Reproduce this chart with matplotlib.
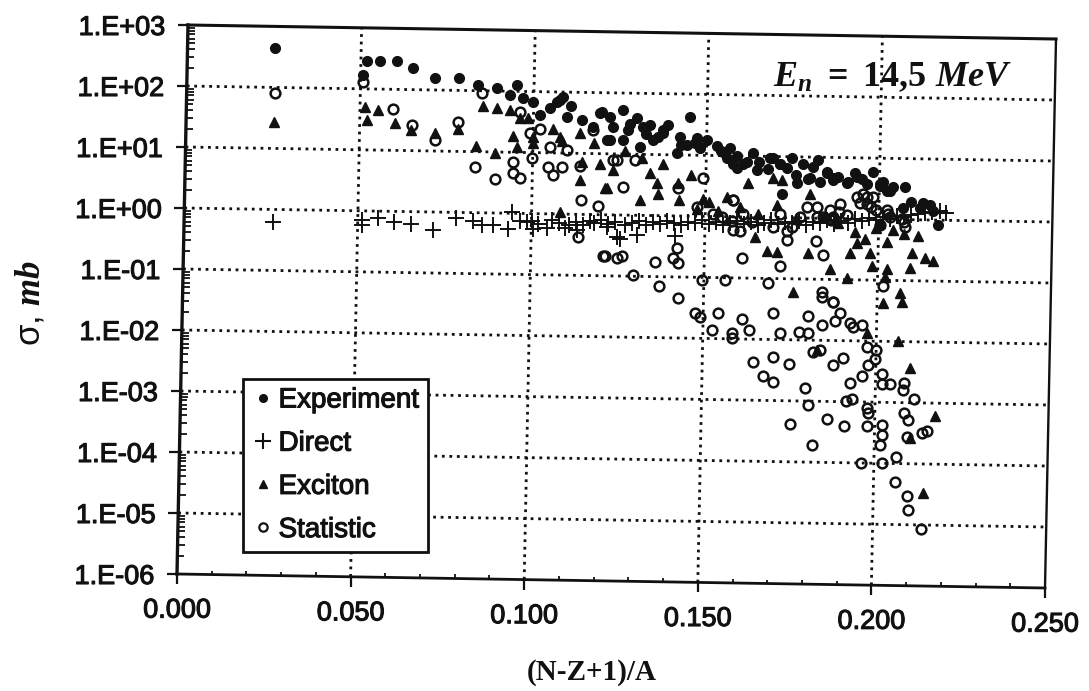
import matplotlib
matplotlib.use('Agg')
import matplotlib.pyplot as plt
from matplotlib.lines import Line2D
from matplotlib.transforms import Affine2D
from matplotlib.ticker import FixedLocator, FixedFormatter
import matplotlib.patheffects as pe

plt.rcParams['font.family'] = ['Liberation Sans', 'DejaVu Sans']
plt.rcParams['mathtext.fontset'] = 'custom'
plt.rcParams['mathtext.rm'] = 'Liberation Serif:bold'
plt.rcParams['mathtext.it'] = 'Liberation Serif:italic:bold'

exp_x = [.0267, .053, .0568, .0616, .0662, .0725, .0794, .085, .0903, .096, .052, .094, .0978, .1006,
         .1026, .1055, .1075, .1092, .1104, .1147, .1204, .1178, .1227, .1198, .1264, .1236, .1304, .1342,
         .1218, .1264, .1313, .135, .1393, .1456, .1428, .1419, .1476, .1505, .1485, .1534, .1571, .1591,
         .1562, .1637, .162, .1648, .1686, .1749, .1714, .1763, .178, .1823, .18, .1849, .1829, .193,
         .1906, .1981, .201, .2038, .2073, .2021, .172, .2145, .2153, .2116, .2167, .2067, .1655, .168,
         .1735, .176, .1795, .1865, .188, .195, .1965, .2, .209, .2125, .159, .1545, .147, .143, .138,
         .133, .128, .1085, .1115, .1227, .1284, .1322, .1379, .1365, .1448, .1485, .1551, .158, .1608,
         .1695, .1714, .1809, .1849, .1867, .191, .1935, .2001, .203]
exp_y = [436, 270, 270, 270, 205, 140, 140, 107, 97, 107, 158, 74, 66, 56,
         35, 46, 56, 69, 33, 29, 39, 22, 13.5, 37, 42, 22, 31, 24,
         13.5, 13.5, 10.5, 13.5, 24, 32, 15, 8.3, 14.5, 13.5, 10, 11, 10, 4.7,
         7, 8.5, 5.9, 4.4, 6.9, 7, 5.6, 2.7, 5.6, 6.3, 3.3, 3.9, 2.8, 3.9,
         2.7, 4.1, 2.8, 2.3, 2.3, 2, 1.8, 1.17, .95, 1.07, .55, 1.07, 6, 4.6,
         4.8, 3.6, 3.1, 3, 3.4, 3.1, 2.6, 2.4, 1.3, 1.25, 7.5, 9, 12, 11.5, 18,
         17, 20, 62, 50, 32.7, 25, 22, 20, 15.5, 11.3, 10.5, 8.7, 5.6, 5.6,
         6.8, 5.6, 4.9, 4.1, 3.2, 2.8, 3.4, 2.6, 2]

dir_x = [.0261, .0516, .0516, .0562, .0608, .0657, .072, .0786, .0834, .086, .0892, .0935, .0946, .097,
         .1003, .1006, .1046, .1098, .1132, .117, .1218, .1247, .1256, .1304, .1413, .099, .102, .106,
         .108, .111, .113, .115, .118, .12, .122, .124, .127, .129, .131, .133, .135, .137, .139, .141,
         .143, .145, .147, .149, .151, .153, .155, .157, .159, .161, .163, .165, .167, .169, .171, .173,
         .175, .177, .179, .181, .183, .185, .187, .189, .191, .193, .195, .197, .199, .201, .203, .205,
         .207, .209, .211, .213, .215, .2173, .219]
dir_y = [.62, .55, .68, .71, .62, .57, .46, .71, .65, .55, .55, .48, .9, .65,
         .65, .48, .5, .5, .46, .65, .52, .35, .33, .38, .37, .62, .58, .66,
         .6, .55, .62, .56, .6, .68, .58, .62, .55, .6, .65, .56, .62, .58, .64, .6,
         .56, .62, .6, .66, .58, .62, .56, .6, .64, .58, .62, .55, .6, .66, .58, .62,
         .6, .65, .56, .62, .6, .66, .58, .64, .6, .7, .65, .72, .68, .74, .7, .78,
         .76, .8, .85, .86, .9, .95, .88]

exc_x = [.0264, .0525, .053, .0562, .0611, .0657, .0725, .0791, .0843, .0897, .0863, .0903, .094, .0949,
         .096, .0969, .0992, .1006, .1006, .1064, .1084, .1147, .1141, .1198, .1218, .1236, .1141, .1084,
         .1213, .1342, .1362, .1365, .1313, .1422, .1425, .1494, .1476, .1562, .1623, .1694, .172, .18,
         .1706, .1537, .1677, .1706, .1795, .1858, .1906, .1752, .1915, .1972, .1978, .1958, .2021, .2093,
         .2087, .213, .2153, .2021, .2016, .201, .2058, .2064, .2038, .211, .1929, .1935, .1643, .2053,
         .2087, .2159, .2124, .1964, .2087, .182, .109, .118, .127, .132, .138, .146, .151, .16, .165, .176,
         .184, .188, .199, .207, .2]
exc_y = [27, 47, 29, 42, 26, 20, 18, 21, 11, 8.5, 50, 46, 42, 16,
         10.5, 31, 31, 15, 12, 21, 15, 5.9, 3, 5.6, 2.2, 4.4, 18, .9,
         2.2, 3.9, 2.7, 1.8, 1.4, 2.7, 1.4, 1.5, 1, 1.6, 2.7, 3.3, 3, 1.8,
         1.17, .95, .21, .2, .19, .107, .074, .044, .19, .19, .12, .33, .29, .19,
         .11, .16, .145, .107, .078, .029, .042, .03, .46, .37, .42, .28, .35, .0071,
         .0025, .00042, .000023, .0093, .00018, .0049, 13, 12, 9, 7, 5.5, 3.6, 1.3, 1.1, .85, .7,
         .75, .6, .5, .4, .6]

sta_x = [.0267, .0519, .0605, .066, .0725, .0791, .086, .084, .0897, .0949, .0949, .0969, .1003, .0998,
         .1026, .0969, .1055, .1104, .1049, .1089, .1064, .1141, .1144, .1193, .1207, .1247, .1135, .1236,
         .1178, .1213, .1261, .1356, .1419, .1408, .1422, .1293, .1368, .1491, .1557, .1422, .168, .1606,
         .1714, .1838, .1818, .1835, .1866, .1494, .1422, .1247, .1299, .1264, .158, .1735, .158, .201,
         .1964, .1944, .1975, .1885, .182, .2025, .207, .2, .186, .1471, .1485, .1537, .1519, .1577, .1577,
         .1606, .1626, .1695, .1714, .1769, .1795, .1795, .1835, .1872, .1887, .1866, .1835, .1915, .1924,
         .195, .1964, .199, .1987, .1967, .1829, .1809, .1895, .1866, .195, .1915, .1637, .1694, .174, .1666,
         .1694, .1786, .1795, .1743, .1849, .1898, .1904, .1921, .1964, .1967, .1964, .2007, .2007, .2001,
         .1806, .1947, .2007, .2047, .2044, .2079, .2081, .212, .2007, .2007, .203, .207, .2067, .2099, .207,
         .2081, .2079, .2122, .2136, .1886, .1906, .1935, .1953, .1963, .1982, .1991, .202, .203, .2063,
         .2073, .1867, .1858, .182, .1791, .1772, .1714, .1695, .1734, .1748, .158, .1547, .1576, .1609,
         .1633, .16, .1523, .1476, .1839]
sta_y = [79, 120, 44, 24, 13.5, 27, 79, 5, 3.1, 5.9, 3.9, 3.3, 7, 18,
         21, 39, 10.5, 9.3, 4.9, 4.9, 3.7, 5.2, 1.4, 1.12, .17, .16, .35, 6.3,
         20, .17, .17, .135, .23, .16, .13, .083, .056, .069, .071, .035, .063, .16,
         .117, .18, .3, .044, .031, 3.3, 2.2, 6.3, 6.3, 2.3, 1.4, .31, .46, .056,
         1.6, 1.25, 1.1, .9, .75, .85, .62, .55, .68, .0204, .017, .02, .0107, .0095, .0078,
         .016, .0105, .02, .0093, .01, .018, .0093, .0126, .015, .02, .031, .037, .014, .0118,
         .0126, .0055, .0049, .0035, .0028, .0049, .0047, .0037, .0028, .0019, .00145, .0032, .0039, .0029, .0019,
         .0015, .00117, .00062, .00031, .00037, .00029, .00074, .00079, .00056, .00046, .00028, .0003, .0002, .00014,
         .00014, .00007, .00007, .00009, .000035, .00002, .000012, .0000059, .002, .0014, .0014, .00145, .00112, .00078, .00046,
         .00036, .00019, .00022, .00024, 1.24, .8, 1.6, 1.8, 1.24, 1.6, .96, .96, .75, .7,
         .51, .75, .96, 1.09, 1.09, .75, .85, .51, .45, .51, 1.4, .75, .65, .85,
         .62, .45, .85, 1.09, .75]

x_ticks = [0.0, 0.05, 0.1, 0.15, 0.2, 0.25]
x_labels = ['0.000', '0.050', '0.100', '0.150', '0.200', '0.250']
x_minor = [.01, .02, .03, .04, .06, .07, .08, .09, .11, .12, .13, .14, .16, .17, .18, .19, .21, .22, .23, .24]
y_ticks = [1e3, 1e2, 1e1, 1e0, 1e-1, 1e-2, 1e-3, 1e-4, 1e-5, 1e-6]
y_labels = ['1.E+03', '1.E+02', '1.E+01', '1.E+00', '1.E-01', '1.E-02', '1.E-03', '1.E-04', '1.E-05', '1.E-06']
y_minor = [m * d for d in y_ticks[1:] for m in range(2, 10)]
series_names = ['Experiment', 'Direct', 'Exciton', 'Statistic']

ink = '#111111'
W, H = 1089, 691
fig = plt.figure(figsize=(W / 100, H / 100), dpi=100, facecolor='white')
ax = fig.add_axes([182 / W, 1 - 576 / H, 872 / W, 550 / H])
ax.set_xlim(0, 0.25)
ax.set_yscale('log')
ax.set_ylim(1e-6, 1e3)

# the scan is slightly tilted: frame, grid and ticks go through this map
# (axes fractions to pixels, from the four corners of the reference frame)
frame = Affine2D.from_values(868, -14, 11, 549, 177, 117)
tilted = ax.transData + ax.transAxes.inverted() + frame

grid_style = dict(color=ink, ls=(0, (1.0, 1.7)), lw=2.0, transform=tilted, clip_on=False, zorder=1)
for v in y_ticks[1:-1]:
    ax.plot([0, 0.25], [v, v], **grid_style)
for v in x_ticks[1:-1]:
    ax.plot([v, v], [1e-6, 1e3], **grid_style)

tick_style = dict(ls='none', color=ink, transform=tilted, clip_on=False, zorder=2)
ax.plot([0] * len(y_ticks), y_ticks, marker=0, ms=7, mew=1.6, **tick_style)
ax.plot([0] * len(y_minor), y_minor, marker=1, ms=5, mew=1.3, **tick_style)
ax.plot(x_ticks, [1e-6] * len(x_ticks), marker=3, ms=7, mew=1.6, **tick_style)
ax.plot(x_minor, [1e-6] * len(x_minor), marker=2, ms=3, mew=1.3, **tick_style)

sides = [([0, 0], [1e-6, 1e3], 2.4), ([0, 0.25], [1e-6, 1e-6], 2.0), ([0, 0.25], [1e3, 1e3], 2.2),
         ([0.25, 0.25], [1e-6, 1e3], 1.7)]
for sx, sy, lw in sides:
    ax.plot(sx, sy, color=ink, lw=lw, transform=tilted, clip_on=False, solid_capstyle='projecting', zorder=2)

ax.plot(dir_x, dir_y, '+', color=ink, ms=11, mew=1.4, zorder=3)
ax.plot(exc_x, exc_y, '^', color=ink, ms=6.5, zorder=3)
ax.plot(sta_x, sta_y, 'o', mfc='none', mec=ink, ms=7, mew=1.8, zorder=4)
ax.plot(exp_x, exp_y, 'o', color=ink, ms=7, zorder=5)

ax.xaxis.set_major_locator(FixedLocator(x_ticks))
ax.xaxis.set_major_formatter(FixedFormatter(x_labels))
ax.yaxis.set_major_locator(FixedLocator(y_ticks))
ax.yaxis.set_major_formatter(FixedFormatter(y_labels))
ax.minorticks_off()
ax.tick_params(axis='x', which='major', labelsize=19.5, labelcolor=ink, length=0, pad=17)
ax.tick_params(axis='y', which='major', labelsize=19.5, labelcolor=ink, length=0, pad=16)
for s in ax.spines.values():
    s.set_visible(False)
ax.patch.set_visible(False)
fig.canvas.draw()

# tick labels follow the tilt too
stroke = [pe.withStroke(linewidth=0.8, foreground=ink)]
for tick, v in zip(ax.xaxis.get_major_ticks(), x_ticks):
    dx, dy = tilted.transform((v, 1e-6)) - ax.transData.transform((v, 1e-6))
    tick.label1.set_transform(tick.label1.get_transform() + Affine2D().translate(dx, dy))
    tick.label1.set_path_effects(stroke)
for tick, v in zip(ax.yaxis.get_major_ticks(), y_ticks):
    dx, dy = tilted.transform((0, v)) - ax.transData.transform((0, v))
    tick.label1.set_transform(tick.label1.get_transform() + Affine2D().translate(dx, dy))
    tick.label1.set_path_effects(stroke)

fig.text(592 / W, 1 - 673 / H, '(N-Z+1)/A', ha='center', va='center', fontsize=21,
         family='Liberation Serif', weight='bold', color=ink)
fig.text(30 / W, 1 - 303 / H, r'$\mathregular{\sigma{,}}\ \mathit{mb}$', rotation=90, ha='center', va='center',
         fontsize=25, color=ink)
fig.text(893 / W, 1 - 77 / H, r'$\mathit{E_n}\ =\ \mathit{14{,}5\ MeV}$',
         ha='center', va='center', fontsize=26, color=ink, zorder=6)

handles = [Line2D([], [], ls='none', marker='o', color=ink, ms=5.5),
           Line2D([], [], ls='none', marker='+', color=ink, ms=12, mew=1.5),
           Line2D([], [], ls='none', marker='^', color=ink, ms=5.5),
           Line2D([], [], ls='none', marker='o', mfc='none', mec=ink, ms=6, mew=1.6)]
leg = ax.legend(handles, series_names, loc='lower left', bbox_to_anchor=(243 / W, 1 - 552 / H),
                bbox_transform=fig.transFigure, borderaxespad=0, fontsize=20, frameon=True, fancybox=False,
                framealpha=1, edgecolor=ink, labelspacing=0.62, handletextpad=0.16, handlelength=0.8,
                borderpad=0.32)
leg.get_frame().set_linewidth(2)
leg.set_zorder(7)
for t in leg.get_texts():
    t.set_color(ink)
    t.set_path_effects(stroke)

fig.savefig('out.png', dpi=100)
